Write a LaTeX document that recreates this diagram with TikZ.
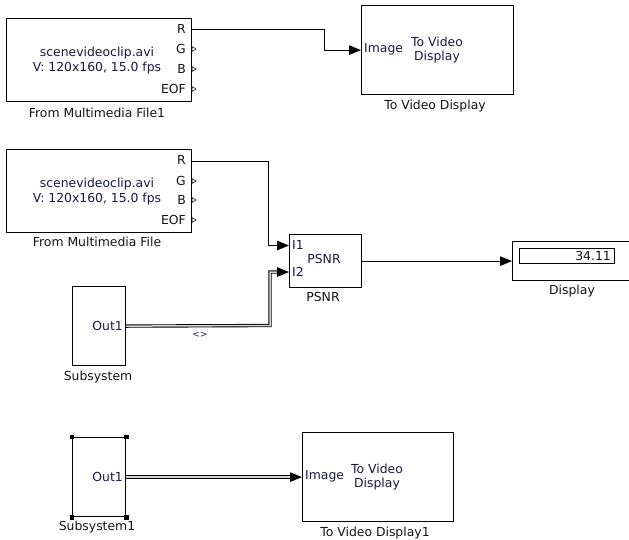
\documentclass[tikz,border=0pt]{standalone}
\usepackage{fontspec}
\setmainfont{DejaVu Sans}
\usetikzlibrary{arrows.meta,calc}
\definecolor{intext}{HTML}{18184A}
\definecolor{lbl}{HTML}{151515}
\tikzset{
  blk/.style={draw=black, line width=1.2pt, fill=white, anchor=north west, inner sep=0pt},
  txt/.style={font=\fontsize{12.4}{14}\selectfont, inner sep=0pt, text=lbl},
  intx/.style={font=\fontsize{12.4}{14.5}\selectfont, inner sep=0pt, text=intext, align=center},
  wire/.style={draw=black, line width=1pt},
  arr/.style={wire, -{Triangle[length=12pt,width=9.5pt]}},
  dwire/.style={draw=black, line width=0.9pt, double=gray!35, double distance=1.5pt},
  oport/.style={draw=black, line width=0.5pt, fill=white}
}
\begin{document}
\begin{tikzpicture}[x=1pt,y=-1pt]
\useasboundingbox (0,0) rectangle (629,539);
\clip (0,0) rectangle (629,539);
\fill[white] (0,0) rectangle (629,539);

% ---------- From Multimedia File1 ----------
\node[blk, minimum width=185pt, minimum height=83pt] (f1) at (6,18) {};
\node[intx] (f1t) at (97,60.5) {scenevideoclip.avi\\V: 120x160, 15.0 fps};
\node[txt, anchor=east] (f1r) at (186,29) {R};
\node[txt, anchor=east] (f1g) at (186,49) {G};
\node[txt, anchor=east] (f1b) at (186,69) {B};
\node[txt, anchor=east] (f1e) at (186,89) {EOF};
\foreach \yy in {49,69,89} \draw[oport] (192,\yy-2.5) -- (196,\yy) -- (192,\yy+2.5) -- cycle;
\node[txt] (f1l) at (97,113) {From Multimedia File1};
\coordinate (f1R) at (191,29.5);

% ---------- To Video Display ----------
\node[blk, minimum width=152pt, minimum height=89pt] (v1) at (361,5) {};
\node[txt, anchor=west, text=intext] (v1i) at (364,49.5) {Image};
\node[intx] (v1t) at (437,50) {To Video\\Display};
\node[txt] (v1l) at (435,106) {To Video Display};

\draw[arr] (f1R) -- (324.5,29.5) |- (v1.west);

% ---------- From Multimedia File ----------
\node[blk, minimum width=185pt, minimum height=83pt] (f2) at (6,149) {};
\node[intx] (f2t) at (97,191.5) {scenevideoclip.avi\\V: 120x160, 15.0 fps};
\node[txt, anchor=east] (f2r) at (186,160) {R};
\node[txt, anchor=east] (f2g) at (186,181) {G};
\node[txt, anchor=east] (f2b) at (186,200) {B};
\node[txt, anchor=east] (f2e) at (186,220) {EOF};
\foreach \yy in {181,200,220} \draw[oport] (192,\yy-2.5) -- (196,\yy) -- (192,\yy+2.5) -- cycle;
\node[txt] (f2l) at (97,242) {From Multimedia File};
\coordinate (f2R) at (191,161.5);

% ---------- PSNR ----------
\node[blk, minimum width=72pt, minimum height=53pt] (ps) at (289,234) {};
\node[txt, anchor=west, text=intext] (psi1) at (292,245) {I1};
\node[txt, anchor=west, text=intext] (psi2) at (292,272) {I2};
\node[txt, text=intext] (pst) at (324,259) {PSNR};
\node[txt] (psl) at (323,297) {PSNR};
\coordinate (psI1) at (289,245.5);
\coordinate (psI2) at (289,272);
\coordinate (psI2b) at (277,272);

\draw[arr] (f2R) -- (268.5,161.5) |- (psI1);

% ---------- Display ----------
\node[blk, minimum width=130pt, minimum height=39pt] (dp) at (512,241) {};
\node[draw=black, line width=1pt, minimum width=95pt, minimum height=15pt, anchor=north west, inner sep=0pt] (dpb) at (519,248) {};
\node[txt, anchor=east] (dpv) at (611,255.5) {34.11};
\node[txt] (dpl) at (572,291) {Display};

\draw[arr] (ps.east) -- (dp.west);

% ---------- Subsystem ----------
\node[blk, minimum width=53pt, minimum height=79pt] (ss) at (72,286) {};
\node[txt, anchor=east, text=intext] (sso) at (123,325.5) {Out1};
\node[txt] (ssl) at (98,377) {Subsystem};
\node[txt, font=\fontsize{9}{10}\selectfont, text=intext] (sig) at (200,335) {<>};

\draw[dwire] (ss.east) -- (270,325.5) |- (psI2b);
\draw[arr] (psI2b) -- (psI2);

% ---------- Subsystem1 ----------
\node[blk, minimum width=53pt, minimum height=79pt] (s1) at (72,437) {};
\foreach \c in {north west, north east, south west, south east}
  \fill[black] ($(s1.\c)+(-2.3,-2.3)$) rectangle ($(s1.\c)+(2.3,2.3)$);
\node[txt, anchor=east, text=intext] (s1o) at (123,476.5) {Out1};
\node[txt] (s1l) at (97,527) {Subsystem1};

% ---------- To Video Display1 ----------
\node[blk, minimum width=151pt, minimum height=89pt] (v2) at (302,432) {};
\node[txt, anchor=west, text=intext] (v2i) at (305,476.5) {Image};
\node[intx] (v2t) at (377,477) {To Video\\Display};
\node[txt] (v2l) at (375,533) {To Video Display1};
\coordinate (v2in) at (v2.west);
\coordinate (v2b) at ($(v2.west)+(-12,0)$);

\draw[dwire] (s1.east) -- (v2b);
\draw[arr] (v2b) -- (v2in);
\end{tikzpicture}
\end{document}
